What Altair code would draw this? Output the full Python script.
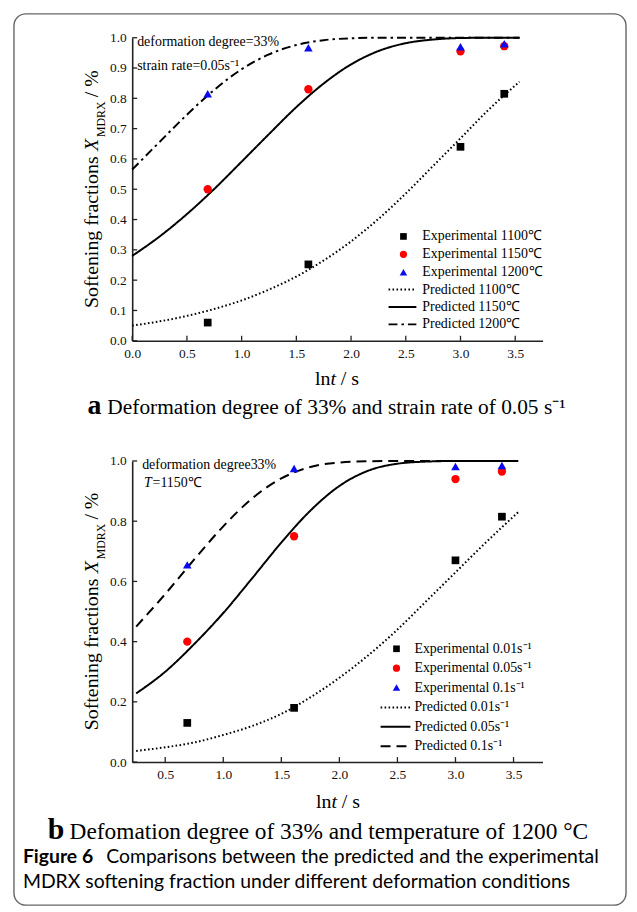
import altair as alt
import pandas as pd

SERIF = "Liberation Serif"
SANS = "Lato"

# ---------------- panel a : values ----------------
a_exp_lnt = [0.69, 1.61, 3.00, 3.40]
a_exp_1100 = [0.060, 0.252, 0.640, 0.815]
a_exp_1150 = [0.500, 0.830, 0.955, 0.972]
a_exp_1200 = [0.815, 0.967, 0.970, 0.980]
a_pred_lnt = [0.00, 0.25, 0.50, 0.75, 1.00, 1.25, 1.50, 1.75, 2.00, 2.25, 2.50, 2.75, 3.00, 3.25, 3.54]
a_pred_1100 = [0.050, 0.064, 0.082, 0.105, 0.133, 0.169, 0.212, 0.265, 0.328, 0.402, 0.486, 0.577, 0.668, 0.760, 0.855]
a_pred_1150 = [0.280, 0.344, 0.418, 0.501, 0.591, 0.682, 0.771, 0.849, 0.912, 0.956, 0.982, 0.994, 0.999, 1.000, 1.000]
a_pred_1200 = [0.565, 0.656, 0.746, 0.828, 0.896, 0.945, 0.976, 0.992, 0.998, 1.000, 1.000, 1.000, 1.000, 1.000, 1.000]
a_x_ticks = [0.0, 0.5, 1.0, 1.5, 2.0, 2.5, 3.0, 3.5]
a_y_ticks = [0.0, 0.1, 0.2, 0.3, 0.4, 0.5, 0.6, 0.7, 0.8, 0.9, 1.0]
a_labels = ["Experimental 1100℃", "Experimental 1150℃", "Experimental 1200℃",
            "Predicted 1100℃", "Predicted 1150℃", "Predicted 1200℃"]
a_notes = ["deformation degree=33%", "strain rate=0.05s⁻¹"]
a_caption = ["a", "Deformation degree of 33% and strain rate of 0.05 s⁻¹"]

# ---------------- panel b : values ----------------
b_exp_lnt = [0.69, 1.61, 3.00, 3.40]
b_exp_001 = [0.130, 0.180, 0.670, 0.815]
b_exp_005 = [0.400, 0.750, 0.940, 0.965]
b_exp_01 = [0.655, 0.975, 0.982, 0.985]
b_pred_lnt = [0.25, 0.50, 0.75, 1.00, 1.25, 1.50, 1.75, 2.00, 2.25, 2.50, 2.75, 3.00, 3.25, 3.54]
b_pred_001 = [0.037, 0.049, 0.065, 0.090, 0.120, 0.160, 0.215, 0.280, 0.355, 0.440, 0.535, 0.630, 0.725, 0.830]
b_pred_005 = [0.228, 0.300, 0.392, 0.495, 0.611, 0.729, 0.835, 0.917, 0.968, 0.991, 0.998, 1.000, 1.000, 1.000]
b_pred_01 = [0.450, 0.558, 0.673, 0.783, 0.876, 0.942, 0.980, 0.995, 0.999, 1.000, 1.000, 1.000, 1.000, 1.000]
b_x_ticks = [0.5, 1.0, 1.5, 2.0, 2.5, 3.0, 3.5]
b_y_ticks = [0.0, 0.2, 0.4, 0.6, 0.8, 1.0]
b_labels = ["Experimental 0.01s⁻¹", "Experimental 0.05s⁻¹", "Experimental 0.1s⁻¹",
            "Predicted 0.01s⁻¹", "Predicted 0.05s⁻¹", "Predicted 0.1s⁻¹"]
b_notes = ["deformation degree33%", "T", "=1150℃"]
b_caption = ["b", "Defomation degree of 33% and temperature of 1200 °C"]
fig_caption = ["Figure 6", "Comparisons between the predicted and the experimental",
               "MDRX softening fraction under different deformation conditions"]

# ---------------- styling ----------------
POINT_STYLES = [("square", "black", 60), ("circle", "#ff0000", 70), ("triangle-up", "#0a0af0", 75)]
A_DASHES = [[1.6, 2.4], [1, 0], [9, 4, 2.5, 4]]
B_DASHES = [[1.6, 2.4], [1, 0], [10, 6]]

ONE = pd.DataFrame({"k": [0]})


def txt(s, x, y, size, font=SERIF, style="normal", weight="normal",
        baseline="alphabetic", angle=0, align="left", color="black"):
    return alt.Chart(ONE).mark_text(
        text=s, font=font, fontSize=size, fontStyle=style, fontWeight=weight,
        baseline=baseline, align=align, angle=angle, color=color
    ).encode(x=alt.value(x), y=alt.value(y))


def panel(width, height, xdom, xticks, yticks, exp_lnt, exps, pred_lnt, preds,
          dashes, labels, leg_rows, leg_sym_x, leg_line, leg_text_x, ytitle_base, xtitle_pos):
    axis_common = dict(title=None, ticks=False, tickSize=0, labelPadding=6, grid=False,
                       domainColor="#222", domainWidth=1.6, labelFont=SERIF, labelFontSize=13.5,
                       labelColor="#111", labelFlush=False, labelOverlap=False, format=".1f")
    X = alt.X("lnt:Q", scale=alt.Scale(domain=xdom, nice=False, zero=False),
              axis=alt.Axis(values=xticks, **axis_common))
    Y = alt.Y("X:Q", scale=alt.Scale(domain=[0, 1], nice=False, zero=False),
              axis=alt.Axis(values=yticks, **axis_common))

    layers = []
    # predicted curves
    for vals, dash in zip(preds, dashes):
        df = pd.DataFrame({"lnt": pred_lnt, "X": vals})
        layers.append(alt.Chart(df).mark_line(color="black", strokeWidth=2, strokeDash=dash,
                                              interpolate="monotone").encode(x=X, y=Y))
    # experimental points
    for vals, (shape, color, size) in zip(exps, POINT_STYLES):
        df = pd.DataFrame({"lnt": exp_lnt, "X": vals})
        layers.append(alt.Chart(df).mark_point(shape=shape, filled=True, size=size, color=color,
                                               opacity=1, strokeWidth=0).encode(x=X, y=Y))
    # inward tick marks
    layers.append(alt.Chart(pd.DataFrame({"lnt": xticks})).mark_rule(color="#222", strokeWidth=1.3)
                  .encode(x=X, y=alt.value(height), y2=alt.value(height - 5)))
    layers.append(alt.Chart(pd.DataFrame({"X": yticks})).mark_rule(color="#222", strokeWidth=1.3)
                  .encode(y=Y, x=alt.value(0), x2=alt.value(5)))
    # legend
    for i, lab in enumerate(labels):
        ry = leg_rows[i]
        if i < 3:
            shape, color, size = POINT_STYLES[i]
            layers.append(alt.Chart(ONE).mark_point(shape=shape, filled=True, size=size * 0.75,
                                                    color=color, opacity=1, strokeWidth=0)
                          .encode(x=alt.value(leg_sym_x), y=alt.value(ry)))
        else:
            layers.append(alt.Chart(ONE).mark_rule(color="black", strokeWidth=2,
                                                   strokeDash=dashes[i - 3])
                          .encode(x=alt.value(leg_line[0]), x2=alt.value(leg_line[1]), y=alt.value(ry)))
        layers.append(txt(lab, leg_text_x, ry, 14, baseline="middle"))
    # y title (rotated, with italic X and subscript MDRX)
    b = ytitle_base
    layers += [
        txt("Softening fractions", -34, b, 20, angle=270),
        txt("X", -34, b - 158, 20, style="italic", angle=270),
        txt("MDRX", -27, b - 172, 12, angle=270),
        txt("/ %", -34, b - 212, 20, angle=270),
    ]
    # x title: ln t / s
    tx, ty = xtitle_pos
    layers += [
        txt("ln", tx, ty, 20),
        txt("t", tx + 15.6, ty, 20, style="italic"),
        txt("/ s", tx + 26, ty, 20),
    ]
    return layers, width, height


# ---------------- panel a ----------------
la, wa, ha = panel(413, 305, [0, 3.75], a_x_ticks, a_y_ticks, a_exp_lnt,
                   [a_exp_1100, a_exp_1150, a_exp_1200], a_pred_lnt,
                   [a_pred_1100, a_pred_1150, a_pred_1200], A_DASHES, a_labels,
                   [200, 218, 236, 253.5, 271, 288.5], 273, (258, 286), 292, 272, (184, 350))
la += [
    txt(a_notes[0], 5, 4, 14, baseline="middle"),
    txt(a_notes[1], 5, 28, 14, baseline="middle"),
    txt(a_caption[0], -45, 379, 28, weight="bold"),
    txt(a_caption[1], -25, 379, 21.5),
]
# outer rounded frame of the whole figure
frame = alt.Chart(ONE).mark_rect(filled=False, stroke="#666", strokeWidth=1.4, cornerRadius=12).encode(
    x=alt.value(-119), x2=alt.value(497), y=alt.value(-24), y2=alt.value(873))
top = alt.layer(frame, *la).properties(width=wa, height=ha)

# ---------------- panel b ----------------
lb, wb, hb = panel(413, 303, [0.2157, 3.75], b_x_ticks, b_y_ticks, b_exp_lnt,
                   [b_exp_001, b_exp_005, b_exp_01], b_pred_lnt,
                   [b_pred_001, b_pred_005, b_pred_01], B_DASHES, b_labels,
                   [189, 208.5, 228, 248, 267.5, 287], 266, (250, 280), 284, 271, (185, 349))
lb += [
    txt(b_notes[0], 10, 4, 14, baseline="middle"),
    txt(b_notes[1], 12, 22, 14, style="italic", baseline="middle"),
    txt(b_notes[2], 20.5, 22, 14, baseline="middle"),
    txt(b_caption[0], -85, 380, 30, weight="bold"),
    txt(b_caption[1], -63, 380, 23.5),
    txt(fig_caption[0], -110, 405, 19.5, font=SANS, weight="bold"),
    txt(fig_caption[1], -26, 405, 19.5, font=SANS),
    txt(fig_caption[2], -110, 430, 19.5, font=SANS),
]
bottom = alt.layer(*lb).properties(width=wb, height=hb)

chart = alt.vconcat(top, bottom, spacing=121, bounds="flush").properties(
    padding={"left": 5, "top": 2, "right": 2, "bottom": 2}
).configure_view(stroke=None)

chart.save("out.html", embed_options={"renderer": "svg", "actions": False})
